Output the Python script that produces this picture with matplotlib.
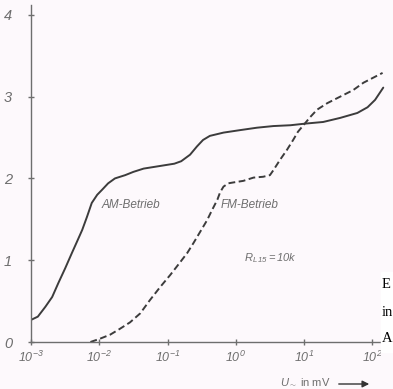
import numpy as np
import matplotlib.pyplot as plt

# values (x as log10 of U in mV)
am_logu = [-3.0, -2.90, -2.79, -2.69, -2.60, -2.50, -2.40, -2.33, -2.25, -2.18,
           -2.11, -2.03, -1.96, -1.87, -1.77, -1.62, -1.50, -1.35, -1.20, -1.05,
           -0.90, -0.80, -0.67, -0.57, -0.48, -0.38, -0.18, 0.06, 0.31, 0.55,
           0.80, 1.02, 1.28, 1.53, 1.78, 1.93, 2.04, 2.16]
am_val = [0.27, 0.31, 0.43, 0.55, 0.72, 0.90, 1.09, 1.22, 1.37, 1.53,
          1.70, 1.80, 1.86, 1.94, 2.0, 2.04, 2.08, 2.12, 2.14, 2.16,
          2.18, 2.21, 2.29, 2.39, 2.47, 2.52, 2.56, 2.59, 2.62, 2.64,
          2.65, 2.67, 2.69, 2.74, 2.80, 2.87, 2.96, 3.11]

fm_logu = [-2.13, -1.99, -1.84, -1.70, -1.55, -1.40, -1.26, -1.11, -0.96, -0.82,
           -0.71, -0.62, -0.52, -0.42, -0.35, -0.27, -0.23, -0.18, -0.11, -0.04,
           0.11, 0.26, 0.40, 0.50, 0.55, 0.65, 0.75, 0.84, 0.91, 0.99,
           1.09, 1.19, 1.34, 1.53, 1.72, 1.87, 2.01, 2.15]
fm_val = [0.0, 0.04, 0.09, 0.16, 0.24, 0.35, 0.51, 0.67, 0.82, 0.97,
          1.09, 1.21, 1.35, 1.49, 1.61, 1.74, 1.83, 1.90, 1.94, 1.95,
          1.97, 2.01, 2.02, 2.04, 2.10, 2.23, 2.35, 2.47, 2.57, 2.65,
          2.75, 2.84, 2.92, 3.0, 3.08, 3.17, 3.23, 3.29]

x_ticks = [1e-3, 1e-2, 1e-1, 1e0, 1e1, 1e2]
x_labels = ["$10^{-3}$", "$10^{-2}$", "$10^{-1}$", "$10^{0}$", "$10^{1}$", "$10^{2}$"]
y_ticks = [0, 1, 2, 3, 4]

ink = "#3c3c3c"
grey = "#6e6e6e"
bg = "#fdf9fc"

plt.rcParams["font.family"] = ["Liberation Sans", "DejaVu Sans"]
plt.rcParams["mathtext.fontset"] = "custom"
plt.rcParams["mathtext.rm"] = "Liberation Sans:italic"
plt.rcParams["mathtext.it"] = "Liberation Sans:italic"

fig = plt.figure(figsize=(3.93, 3.89), dpi=100, facecolor=bg)
ax = fig.add_axes([31 / 393, 47 / 389, (386 - 31) / 393, (342 - 5) / 389])
ax.set_facecolor(bg)

ax.plot(10 ** np.array(am_logu), am_val, color=ink, lw=1.4,
        solid_capstyle="round", solid_joinstyle="round")
ax.plot(10 ** np.array(fm_logu), fm_val, color=ink, lw=1.4, dashes=(3.5, 1.8))

ax.set_xscale("log")
ax.set_xlim(1e-3, 10 ** 2.2)
ax.set_ylim(0, 4.12)
ax.minorticks_off()
ax.set_xticks(x_ticks)
ax.set_xticklabels(x_labels)
ax.set_yticks(y_ticks)
ax.set_yticklabels([str(v) for v in y_ticks])

for side in ["top", "right"]:
    ax.spines[side].set_visible(False)
for side in ["left", "bottom"]:
    ax.spines[side].set_color(grey)
    ax.spines[side].set_linewidth(1.0)

ax.tick_params(direction="inout", length=5, width=1, color=grey,
               labelcolor=grey)
ax.tick_params(axis="y", pad=11, labelsize=10.5)
ax.tick_params(axis="x", pad=3, labelsize=9)
for lab in ax.get_yticklabels():
    lab.set_style("italic")

ax.text(10 ** -1.97, 1.68, "AM-Betrieb", style="italic", color=grey,
        fontsize=8.5, va="center")
ax.text(10 ** -0.22, 1.68, "FM-Betrieb", style="italic", color=grey,
        fontsize=8.5, va="center")
ax.text(10 ** 0.12, 1.03, "$R_{L\\,15} = 10k$", color=grey, fontsize=8, va="center")

# axis caption at the bottom edge
fig.text(280 / 393, 1 - 388 / 389, "$U_{\\sim}$ in mV", color=grey,
         fontsize=8, va="bottom", ha="left")
ax.annotate("", xy=(372 / 393, 1 - 384 / 389), xytext=(336 / 393, 1 - 384 / 389),
            xycoords="figure fraction", textcoords="figure fraction",
            arrowprops=dict(arrowstyle="-|>", color="#333333", lw=1.0,
                            mutation_scale=10))

# stray page text at the right edge
fig.patches.append(plt.Rectangle((381 / 393, 1 - 352 / 389), 12 / 393, 80 / 389,
                                 transform=fig.transFigure, color="white", zorder=3))
for ypx, s in [(285, "E"), (312, "in"), (338, "A")]:
    fig.text(382 / 393, 1 - ypx / 389, s, family="Liberation Serif",
             fontsize=10.5, color="black", va="center", ha="left", zorder=4)

fig.savefig("out.png", dpi=100, facecolor=bg)
